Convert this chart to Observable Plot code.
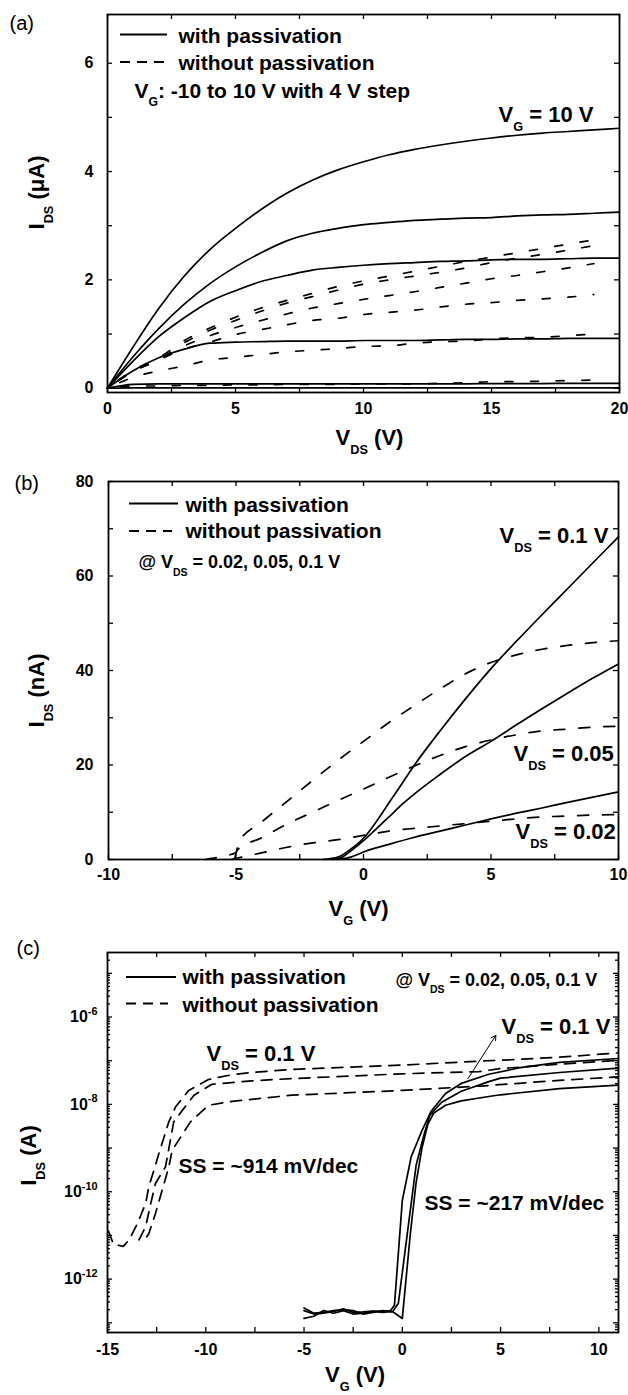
<!DOCTYPE html>
<html><head><meta charset="utf-8">
<script src="https://cdn.jsdelivr.net/npm/d3@7"></script>
<script src="https://cdn.jsdelivr.net/npm/@observablehq/plot@0.6"></script>
<style>
body{margin:0;background:#fff;}
#wrap{position:relative;width:628px;height:1395px;background:#fff;overflow:hidden;}
#wrap svg{position:absolute;left:0;}
</style></head><body><div id="wrap"></div>
<script>
// ---------------- Panel (a): output curves, I_DS (uA) vs V_DS (V) ----------------
const aVdsSolid = [0,1,2,3,4,5,6,7,8,9,10,11,12,13,14,15,16,17,18,19,20];
const aSolidVG10  = [0,0.76,1.47,2.07,2.56,2.95,3.3,3.6,3.84,4.03,4.18,4.31,4.41,4.49,4.56,4.62,4.67,4.71,4.74,4.77,4.8];
const aSolidVG6   = [0,0.58,1.1,1.55,1.93,2.24,2.5,2.72,2.86,2.95,3.02,3.06,3.1,3.12,3.14,3.15,3.18,3.2,3.21,3.23,3.25];
const aSolidVG2   = [0,0.5,0.95,1.3,1.6,1.8,1.97,2.08,2.18,2.23,2.27,2.3,2.32,2.34,2.35,2.37,2.38,2.38,2.39,2.4,2.4];
const aSolidVGm2  = [0,0.32,0.56,0.72,0.83,0.85,0.86,0.87,0.87,0.87,0.88,0.88,0.88,0.89,0.9,0.9,0.91,0.91,0.92,0.92,0.92];
const aSolidVGm6  = [0,0.07,0.08,0.08,0.08,0.08,0.08,0.08,0.08,0.08,0.08,0.08,0.08,0.08,0.08,0.085,0.085,0.085,0.09,0.09,0.09];
const aSolidVGm10 = [0,0.005,0.005,0.005,0.005,0.005,0.005,0.005,0.005,0.005,0.005,0.005,0.005,0.005,0.005,0.005,0.005,0.005,0.005,0.005,0.005];

const aVdsDash = [0,1,2,3,4,5,6,7,8,9,10,11,12,13,14,15,16,17,18,19];
const aDashVG10  = [0,0.33,0.56,0.88,1.11,1.31,1.48,1.62,1.75,1.88,1.98,2.07,2.16,2.25,2.34,2.42,2.5,2.58,2.66,2.74];
const aDashVG6   = [0,0.31,0.52,0.84,1.07,1.25,1.42,1.57,1.69,1.81,1.92,2.0,2.07,2.14,2.22,2.32,2.4,2.47,2.55,2.63];
const aDashVG2   = [0,0.31,0.53,0.78,0.97,1.12,1.25,1.37,1.48,1.56,1.64,1.71,1.78,1.86,1.94,2.02,2.08,2.15,2.22,2.3];
const aDashVGm2  = [0,0.31,0.52,0.72,0.85,0.99,1.08,1.17,1.25,1.29,1.36,1.4,1.44,1.5,1.55,1.58,1.62,1.65,1.68,1.73];
const aDashVGm6  = [0,0.2,0.32,0.41,0.52,0.57,0.62,0.67,0.7,0.73,0.77,0.78,0.83,0.86,0.87,0.91,0.93,0.94,0.97,1.0];
const aDashVGm10 = [0,0.04,0.04,0.05,0.05,0.06,0.06,0.07,0.07,0.07,0.08,0.08,0.08,0.09,0.1,0.12,0.12,0.13,0.14,0.15];

const aXLabels = [0,5,10,15,20];
const aYLabels = [0,2,4,6];

// ---------------- Panel (b): transfer curves, I_DS (nA) vs V_G (V) ----------------
const bSol01VG  = [-1.6,-1,-0.5,0,0.5,1,1.5,2,3,4,5,6,7,8,9,10];
const bSol01I   = [0,0.5,2.2,4.5,8,12,16,20,27.2,34,40.4,46.2,51.8,57.3,62.8,68.3];
const bSol005VG = [-1.2,-0.8,-0.5,0,0.5,1,1.5,2,3,4,5,6,7,8,9,10];
const bSol005I  = [0,0.6,1.8,4,6.5,9,11.6,13.9,18,21.8,25,28.5,31.9,35.2,38.4,41.4];
const bSol002VG = [-1,-0.5,0,1,2,3,4,5,6,7,8,9,10];
const bSol002I  = [0,0.5,1.6,3.2,4.7,6,7.3,8.6,9.8,10.9,12.1,13.2,14.3];
const bDash01VG  = [-6.2,-5.6,-5,-4.9,-4,-3,-2,-1,0,1,2,3,4,5,6,7,8,9,10];
const bDash01I   = [0,0.6,1.5,3.6,7.9,12.3,16.7,21,25,29,32.6,36.1,39.3,41.7,43.3,44.5,45.3,45.9,46.3];
const bDash005VG = [-5.05,-4.95,-4,-3,-2,-1,0,1,2,3,4,5,6,7,8,9,10];
const bDash005I  = [0.2,2,4.6,7.5,10,12.5,14.9,17.4,19.8,22,23.9,25.3,26.4,27.2,27.6,28,28.2];
const bDash002VG = [-5.2,-4,-3,-2,-1,0,1,2,3,4,5,6,7,8,9,10];
const bDash002I  = [0,1.4,2.6,3.5,4.2,5.1,6,6.6,7.1,7.6,8.1,8.6,9,9.2,9.4,9.5];

const bXLabels = [-10,-5,0,5,10];
const bYLabels = [0,20,40,60,80];

// ---------------- Panel (c): transfer curves, log10 I_DS (A) vs V_G (V) ----------------
const cSol01VG   = [-5,-4.5,-4,-3.5,-3,-2.5,-2,-1.5,-1,-0.6,-0.4,0,0.45,1,1.45,2.2,3,4.4,6,8,11];
const cSol01Log  = [-12.72,-12.8,-12.78,-12.74,-12.68,-12.76,-12.75,-12.73,-12.74,-12.72,-12.6,-10.2,-9.2,-8.6,-8.17,-7.75,-7.52,-7.31,-7.16,-7.04,-6.95];
const cSol005VG  = [-5,-4.5,-4,-3.5,-3,-2.5,-2,-1.5,-1,-0.5,-0.2,0.3,0.7,1.1,1.4,2,3,4.4,5,8,11];
const cSol005Log = [-12.66,-12.78,-12.76,-12.72,-12.7,-12.72,-12.8,-12.76,-12.72,-12.75,-12.55,-10.8,-9.4,-8.7,-8.25,-7.95,-7.7,-7.48,-7.4,-7.27,-7.17];
const cSol002VG  = [-5,-4.5,-4,-3.5,-3,-2.5,-2,-1.5,-1,-0.5,0,0.4,0.7,1,1.3,1.6,2.2,3,4.4,5,8,11];
const cSol002Log = [-12.9,-12.85,-12.72,-12.78,-12.72,-12.8,-12.78,-12.74,-12.76,-12.74,-12.9,-11,-9.8,-9,-8.45,-8.2,-8.02,-7.92,-7.82,-7.78,-7.64,-7.56];
const cDash01VG  = [-14.95,-14.7,-14.2,-13.9,-13.5,-13.06,-12.9,-12.64,-12.39,-11.88,-11.54,-10.87,-9.86,-8.67,-7.66,-5.64,0,3.9,5,8,11];
const cDash01Log = [-10.9,-11.2,-11.25,-11.1,-10.75,-10.27,-9.89,-9.51,-9.13,-8.4,-8.06,-7.68,-7.43,-7.32,-7.27,-7.2,-7.1,-7.01,-6.99,-6.92,-6.82];
const cDash005VG  = [-13.4,-13.06,-12.8,-12.56,-12.05,-11.8,-11.63,-10.6,-9.69,-7.66,-5.64,0,3.9,5,8,11];
const cDash005Log = [-11.1,-10.8,-10.27,-9.81,-9.43,-8.82,-8.4,-7.79,-7.54,-7.46,-7.41,-7.3,-7.25,-7.18,-7.08,-6.99];
const cDash002VG  = [-13,-12.9,-12.56,-11.88,-11.71,-10.78,-9.86,-8.67,-5.64,0,4,8,11];
const cDash002Log = [-11.03,-10.96,-10.5,-9.43,-9.05,-8.4,-8.02,-7.93,-7.79,-7.68,-7.58,-7.45,-7.37];

const cXLabels = [-15,-10,-5,0,5,10];
const cYLabels = [1e-12,1e-10,1e-8,1e-6];
const cArrow = [{vg1: 3.34, log1: -7.41, vg2: 4.76, log2: -6.42}];

// ---------------- helpers ----------------
const FONT = '"Liberation Sans", Arial, Helvetica, sans-serif';
const wrap = document.getElementById("wrap");

function table(xs, ys, key, f = v => v) {
  return xs.map((x, i) => ({x, y: f(ys[i]), key}));
}

function rich(svg) {
  svg.querySelectorAll("text").forEach(el => {
    if (el.querySelector("tspan")) return;
    const s = el.textContent;
    if (!/[_^]\{/.test(s)) return;
    const fs = parseFloat(getComputedStyle(el).fontSize) || 16;
    el.textContent = "";
    const re = /([_^])\{([^}]*)\}/g;
    let last = 0, m, cur = 0;
    const add = (txt, shift, small) => {
      const t = document.createElementNS("http://www.w3.org/2000/svg", "tspan");
      t.textContent = txt;
      const dy = shift - cur;
      if (dy) t.setAttribute("dy", dy.toFixed(2));
      if (small) t.setAttribute("font-size", (fs * small).toFixed(2));
      cur = shift;
      el.appendChild(t);
    };
    while ((m = re.exec(s))) {
      if (m.index > last) add(s.slice(last, m.index), 0, 0);
      if (m[1] === "_") add(m[2], fs * 0.42, 0.58);
      else add(m[2], -fs * 0.45, 0.68);
      last = re.lastIndex;
    }
    if (last < s.length) add(s.slice(last), 0, 0);
  });
}

function buildPanel(cfg) {
  const W = 628 - cfg.ml - cfg.mr;
  const H = cfg.height - cfg.mt - cfg.mb;
  const at = (x, b) => ({frameAnchor: "top-left", dx: x - cfg.ml, dy: b - cfg.mt});
  const notes = cfg.notes.map(n => Plot.text([n.t], {
    text: d => d, ...at(n.x, n.b), textAnchor: "start", lineAnchor: "bottom",
    fontSize: n.fs, fontWeight: n.w || "bold", fill: "black"
  }));
  const tk = {stroke: "black", strokeWidth: 1.3};
  const tickMarks = [
    Plot.tickX(cfg.xMarks, {x: d => d, insetTop: H - 5, ...tk}),
    Plot.tickX(cfg.xMarks, {x: d => d, insetBottom: H - 5, ...tk}),
    Plot.tickY(cfg.yMarks, {y: d => d, insetRight: W - 5, ...tk}),
    Plot.tickY(cfg.yMarks, {y: d => d, insetLeft: W - 5, ...tk})
  ];
  if (cfg.yMinor) {
    tickMarks.push(Plot.tickY(cfg.yMinor, {y: d => d, insetRight: W - 3, ...tk}));
    tickMarks.push(Plot.tickY(cfg.yMinor, {y: d => d, insetLeft: W - 3, ...tk}));
  }
  const svg = Plot.plot({
    width: 628, height: cfg.height,
    marginLeft: cfg.ml, marginRight: cfg.mr, marginTop: cfg.mt, marginBottom: cfg.mb,
    x: cfg.x, y: cfg.y,
    style: {fontFamily: FONT, fontSize: "16px", fontWeight: "bold", color: "black", background: "transparent", overflow: "visible"},
    marks: [
      ...cfg.marks,
      Plot.frame({stroke: "black", strokeWidth: 1.8}),
      ...tickMarks,
      Plot.axisX(cfg.xLabels, {tickSize: 0, tickPadding: cfg.xPad, tickFormat: d => String(d), label: null, fontSize: 16, fontWeight: "bold"}),
      Plot.axisY(cfg.yLabels, {tickSize: 0, tickPadding: cfg.yPad, tickFormat: cfg.yFormat || (d => String(d)), label: null, fontSize: 16, fontWeight: "bold"}),
      Plot.text([cfg.xTitle], {text: d => d, frameAnchor: "bottom", textAnchor: "middle", lineAnchor: "bottom", dx: cfg.xTitleDx, dy: cfg.xTitleDy, fontSize: 22, fontWeight: "bold"}),
      Plot.text([cfg.yTitle], {text: d => d, frameAnchor: "left", textAnchor: "middle", lineAnchor: "bottom", rotate: -90, dx: cfg.yTitleDx, dy: cfg.yTitleDy, fontSize: 22, fontWeight: "bold"}),
      Plot.text([cfg.letter], {text: d => d, ...at(cfg.letterX, cfg.letterB), textAnchor: "start", lineAnchor: "bottom", fontSize: 20, fontWeight: "normal"}),
      ...notes
    ]
  });
  svg.style.top = cfg.top + "px";
  wrap.appendChild(svg);
  // legend sample lines
  const g = d3.select(svg).append("g").attr("stroke", "black").attr("stroke-width", 1.8);
  g.append("line").attr("x1", cfg.leg.x1).attr("x2", cfg.leg.x2).attr("y1", cfg.leg.y1).attr("y2", cfg.leg.y1);
  g.append("line").attr("x1", cfg.leg.x1).attr("x2", cfg.leg.x3).attr("y1", cfg.leg.y2).attr("y2", cfg.leg.y2).attr("stroke-dasharray", "10,7");
  rich(svg);
}

const lineOpts = {x: "x", y: "y", z: "key", stroke: "black", strokeWidth: 1.7, curve: "monotone-x"};

// ---------- Panel (a) ----------
const aSolid = [
  ...table(aVdsSolid, aSolidVG10, "10"), ...table(aVdsSolid, aSolidVG6, "6"), ...table(aVdsSolid, aSolidVG2, "2"),
  ...table(aVdsSolid, aSolidVGm2, "-2"), ...table(aVdsSolid, aSolidVGm6, "-6"), ...table(aVdsSolid, aSolidVGm10, "-10")
];
const aDash = [
  ...table(aVdsDash, aDashVG10, "10"), ...table(aVdsDash, aDashVG6, "6"), ...table(aVdsDash, aDashVG2, "2"),
  ...table(aVdsDash, aDashVGm2, "-2"), ...table(aVdsDash, aDashVGm6, "-6"), ...table(aVdsDash, aDashVGm10, "-10")
];
buildPanel({
  top: 0, height: 460, ml: 107, mr: 9, mt: 14, mb: 68,
  x: {domain: [0, 20]}, y: {domain: [-0.08, 6.9]},
  xLabels: aXLabels, yLabels: aYLabels,
  xMarks: d3.range(0, 20.01, 2.5), yMarks: d3.range(0, 7, 1),
  xPad: 10, yPad: 14,
  xTitle: "V_{DS} (V)", xTitleDx: 6, xTitleDy: 52,
  yTitle: "I_{DS} (μA)", yTitleDx: -64, yTitleDy: -11,
  letter: "(a)", letterX: 9, letterB: 29,
  leg: {x1: 120, x2: 167, x3: 165, y1: 34.5, y2: 62},
  marks: [
    Plot.line(aSolid, lineOpts),
    Plot.line(aDash, {...lineOpts, strokeDasharray: "8,17.6", strokeDashoffset: 12})
  ],
  notes: [
    {t: "with passivation", x: 178, b: 42, fs: 21},
    {t: "without passivation", x: 178, b: 69, fs: 21},
    {t: "V_{G}: -10 to 10 V with 4 V step", x: 134, b: 97, fs: 21},
    {t: "V_{G} = 10 V", x: 498, b: 121, fs: 22}
  ]
});

// ---------- Panel (b) ----------
const bSolid = [...table(bSol01VG, bSol01I, "0.1"), ...table(bSol005VG, bSol005I, "0.05"), ...table(bSol002VG, bSol002I, "0.02")];
const bDash = [...table(bDash01VG, bDash01I, "0.1"), ...table(bDash005VG, bDash005I, "0.05"), ...table(bDash002VG, bDash002I, "0.02")];
buildPanel({
  top: 460, height: 460, ml: 108, mr: 10, mt: 21, mb: 61,
  x: {domain: [-10, 10]}, y: {domain: [0, 80]},
  xLabels: bXLabels, yLabels: bYLabels,
  xMarks: d3.range(-10, 10.01, 2.5), yMarks: d3.range(0, 80.01, 10),
  xPad: 9, yPad: 15,
  xTitle: "V_{G} (V)", xTitleDx: -5, xTitleDy: 56,
  yTitle: "I_{DS} (nA)", yTitleDx: -65, yTitleDy: 20,
  letter: "(b)", letterX: 14, letterB: 29,
  leg: {x1: 129, x2: 178, x3: 172, y1: 43.5, y2: 71},
  marks: [
    Plot.line(bSolid, lineOpts),
    Plot.line(bDash, {...lineOpts, strokeDasharray: "11,14"})
  ],
  notes: [
    {t: "with passivation", x: 185, b: 51, fs: 21},
    {t: "without passivation", x: 185, b: 77.5, fs: 21},
    {t: "@ V_{DS} = 0.02, 0.05, 0.1 V", x: 138, b: 107.5, fs: 18},
    {t: "V_{DS} = 0.1 V", x: 499, b: 82, fs: 22},
    {t: "V_{DS} = 0.05", x: 513, b: 300, fs: 22},
    {t: "V_{DS} = 0.02", x: 515, b: 378.5, fs: 22}
  ]
});

// ---------- Panel (c) ----------
const pow = v => Math.pow(10, v);
const cSolid = [...table(cSol01VG, cSol01Log, "0.1", pow), ...table(cSol005VG, cSol005Log, "0.05", pow), ...table(cSol002VG, cSol002Log, "0.02", pow)];
const cDash = [...table(cDash01VG, cDash01Log, "0.1", pow), ...table(cDash005VG, cDash005Log, "0.05", pow), ...table(cDash002VG, cDash002Log, "0.02", pow)];
const cMajor = d3.range(-13, -4).map(e => pow(e));
const cMinor = [];
for (let e = -14; e <= -5; e++) for (let k = 2; k <= 9; k++) { const v = k * pow(e); if (v >= 6e-14 && v <= 3e-5) cMinor.push(v); }
buildPanel({
  top: 920, height: 475, ml: 107, mr: 10, mt: 32, mb: 63,
  x: {domain: [-15, 11]}, y: {type: "log", domain: [6e-14, 3e-5]},
  xLabels: cXLabels, yLabels: cYLabels,
  xMarks: d3.range(-15, 10.01, 2.5), yMarks: cMajor, yMinor: cMinor,
  yFormat: d => `10^{${Math.round(Math.log10(d))}}`,
  xPad: 11, yPad: 10,
  xTitle: "V_{G} (V)", xTitleDx: -8, xTitleDy: 49,
  yTitle: "I_{DS} (A)", yTitleDx: -72, yTitleDy: 13,
  letter: "(c)", letterX: 16, letterB: 34,
  leg: {x1: 126, x2: 176, x3: 168, y1: 57, y2: 83.5},
  marks: [
    Plot.line(cSolid, {...lineOpts, curve: "linear"}),
    Plot.line(cDash, {...lineOpts, curve: "linear", strokeDasharray: "11,8"}),
    Plot.arrow(cArrow, {x1: "vg1", y1: d => pow(d.log1), x2: "vg2", y2: d => pow(d.log2), stroke: "black", strokeWidth: 1, headLength: 8})
  ],
  notes: [
    {t: "with passivation", x: 182, b: 63.5, fs: 21},
    {t: "without passivation", x: 182, b: 91, fs: 21},
    {t: "@ V_{DS} = 0.02, 0.05, 0.1 V", x: 395, b: 65, fs: 18},
    {t: "V_{DS} = 0.1 V", x: 206, b: 140, fs: 22},
    {t: "V_{DS} = 0.1 V", x: 501, b: 113.5, fs: 22},
    {t: "SS = ~914 mV/dec", x: 178, b: 252, fs: 21},
    {t: "SS = ~217 mV/dec", x: 424, b: 289.5, fs: 21}
  ]
});
</script></body></html>
